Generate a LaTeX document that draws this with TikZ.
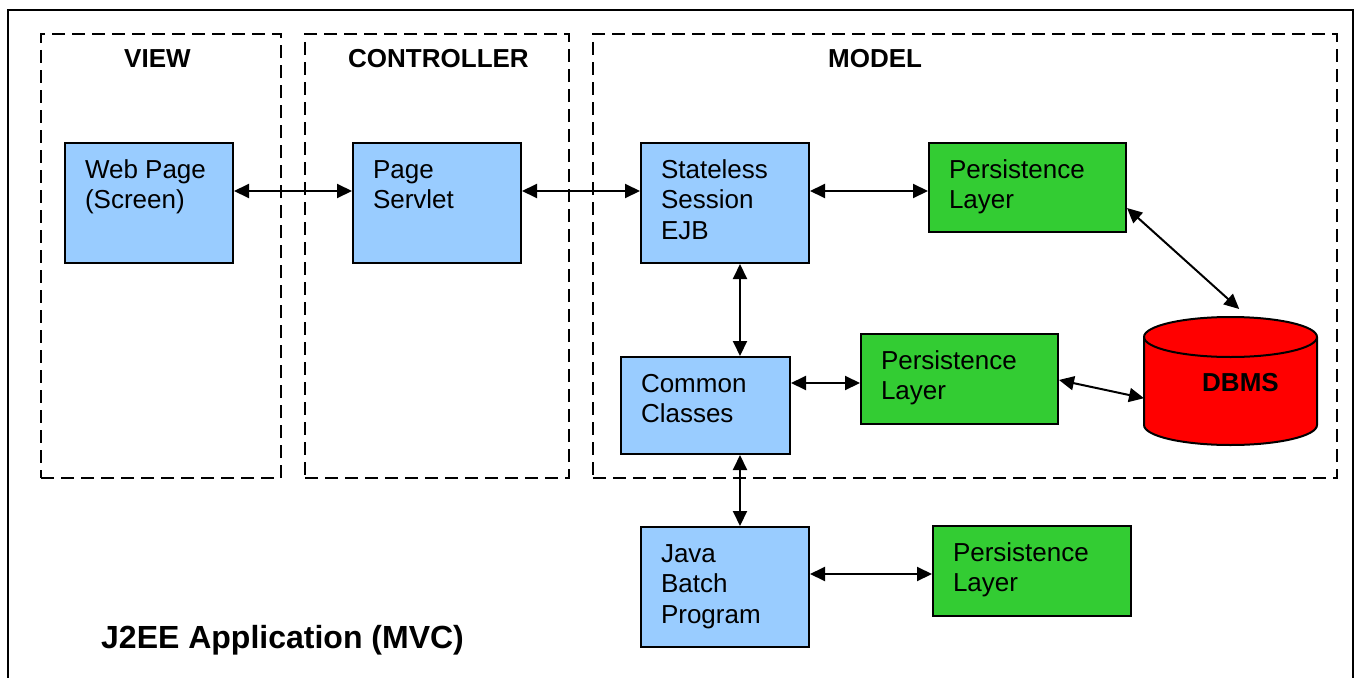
\documentclass[tikz,border=0pt]{standalone}
\usepackage{fontspec}
\setmainfont{Liberation Sans}
\usetikzlibrary{arrows.meta,calc}
\definecolor{boxblue}{HTML}{99CCFF}
\definecolor{boxgreen}{HTML}{33CC33}
\definecolor{dbred}{HTML}{FF0000}
\newcommand\cellbox[3]{\vbox to #2{\vskip 14pt\def\LL##1{\hbox to #1{\hskip 20pt\strut ##1\hfil}}#3\vfil}}
\tikzset{
  box/.style={draw=black, line width=2pt, inner sep=0pt, anchor=north west, font=\fontsize{26}{30.5}\selectfont},
  bbox/.style={box, fill=boxblue},
  gbox/.style={box, fill=boxgreen},
  lane/.style={draw, dash pattern=on 13pt off 7pt, line width=2pt, inner sep=0pt, anchor=north west},
  arr/.style={{Triangle[length=15pt,width=14pt]}-{Triangle[length=15pt,width=14pt]}, line width=2pt},
  head/.style={font=\fontsize{26}{30}\selectfont\bfseries, anchor=base west, inner sep=0pt},
}
\begin{document}
\begin{tikzpicture}[x=1pt,y=-1pt]
\useasboundingbox (0,0) rectangle (1359,677);
\clip (0,0) rectangle (1359,677);
\fill[white] (0,0) rectangle (1359,677);
% outer frame
\draw[line width=2pt] (8,700) -- (8,10) -- (1353,10) -- (1353,700);
% lanes
\node[lane, minimum width=240pt, minimum height=444pt] (viewlane) at (40,33) {};
\node[lane, minimum width=264pt, minimum height=444pt] (ctrllane) at (304,33) {};
\node[lane, minimum width=744pt, minimum height=444pt] (modellane) at (592,33) {};
\node[head] (hview) at (124,67) {VIEW};
\node[head] (hctrl) at (348,67) {CONTROLLER};
\node[head] (hmodel) at (828,67) {MODEL};
% boxes
\node[bbox] (web) at (64,142) {\cellbox{168pt}{120pt}{\LL{Web Page}\LL{(Screen)}}};
\node[bbox] (ps) at (352,142) {\cellbox{168pt}{120pt}{\LL{Page}\LL{Servlet}}};
\node[bbox] (se) at (640,142) {\cellbox{168pt}{120pt}{\LL{Stateless}\LL{Session}\LL{EJB}}};
\node[gbox] (pt) at (928,142) {\cellbox{197pt}{89pt}{\LL{Persistence}\LL{Layer}}};
\node[bbox] (cc) at (620,356) {\cellbox{169pt}{97pt}{\LL{Common}\LL{Classes}}};
\node[gbox] (pm) at (860,333) {\cellbox{197pt}{90pt}{\LL{Persistence}\LL{Layer}}};
\node[bbox] (jb) at (640,526) {\cellbox{168pt}{120pt}{\LL{Java}\LL{Batch}\LL{Program}}};
\node[gbox] (pb) at (932,525) {\cellbox{198pt}{90pt}{\LL{Persistence}\LL{Layer}}};
% DBMS cylinder
\node[inner sep=0pt, minimum width=173pt, minimum height=128pt, anchor=north west] (db) at (1144,317) {};
\draw[fill=dbred, line width=2pt] (db.north west) ++(0pt,-20pt) -- ++(0pt,-88pt)
  arc[start angle=180, end angle=360, x radius=86.5pt, y radius=20pt] -- ++(0pt,88pt)
  arc[start angle=0, end angle=180, x radius=86.5pt, y radius=20pt] -- cycle;
\draw[line width=2pt] (db.north west) ++(0pt,-20pt) arc[start angle=180, end angle=360, x radius=86.5pt, y radius=20pt];
\node[head] (dbt) at (1202,391) {DBMS};
% connectors
\draw[arr] ([yshift=12pt]web.east) -- ([yshift=12pt]ps.west);
\draw[arr] ([yshift=12pt]ps.east) -- ([yshift=12pt]se.west);
\draw[arr] ([yshift=12pt]se.east) -- ([yshift=12pt]se.east -| pt.west);
\draw[arr] ([xshift=15pt]se.south) -- ([xshift=15pt]se.south |- cc.north);
\draw[arr] ([yshift=-4pt]pm.west -| cc.east) -- ([yshift=-4pt]pm.west);
\draw[arr] ([xshift=15pt]jb.north |- cc.south) -- ([xshift=15pt]jb.north);
\draw[arr] ([yshift=-3pt]pb.west -| jb.east) -- ([yshift=-3pt]pb.west);
\draw[arr] ([yshift=-66pt]pt.north east) -- ([xshift=8.5pt,yshift=8pt]db.north);
\draw[arr] ([yshift=-1pt]pm.east) -- ([yshift=-17pt]db.west);
% title
\node[head, font=\fontsize{32}{36}\selectfont\bfseries] (title) at (101,648) {J2EE Application (MVC)};
\end{tikzpicture}
\end{document}
